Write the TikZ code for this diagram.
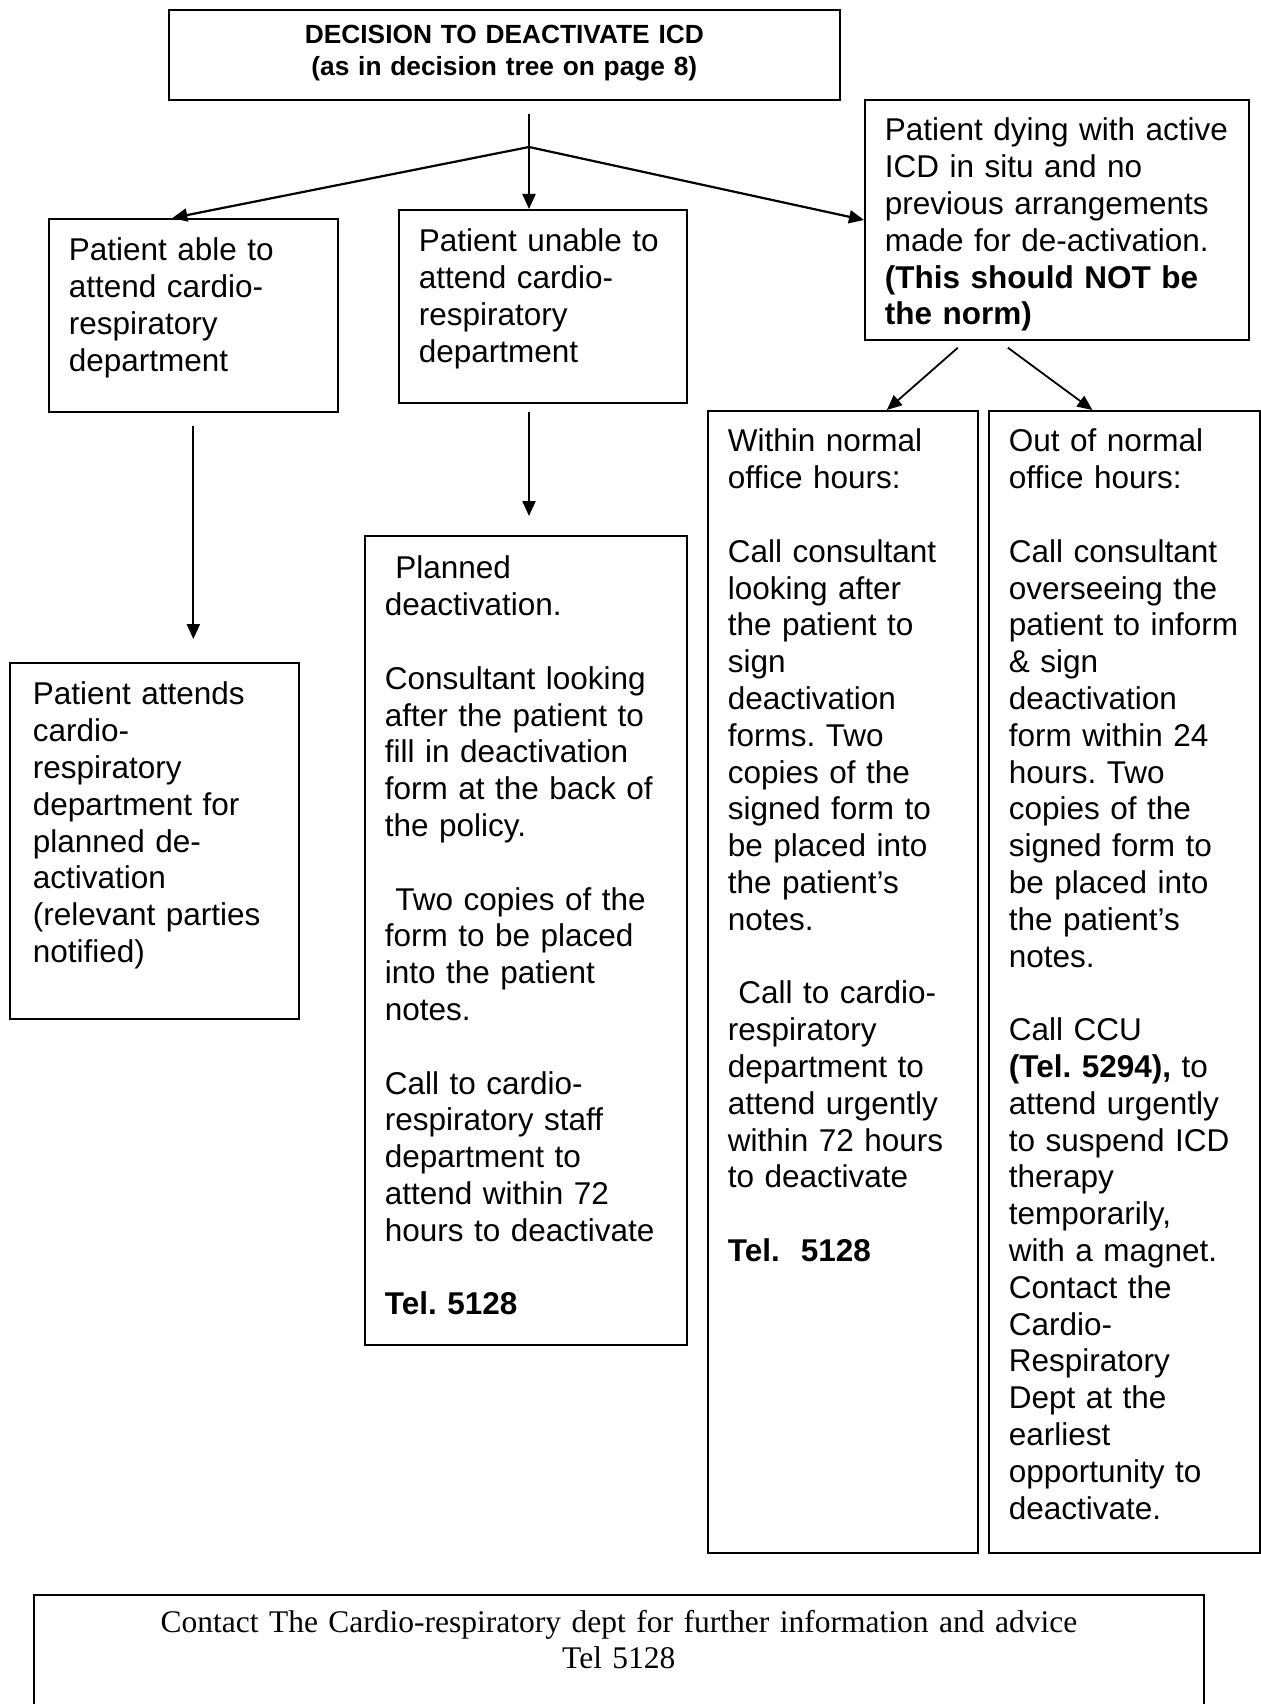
\documentclass[tikz,border=0pt]{standalone}
\usepackage{fontspec}
\setmainfont{Liberation Sans}
\newfontfamily\timesfont{Liberation Serif}
\usetikzlibrary{arrows.meta}
\frenchspacing

\begin{document}
\begin{tikzpicture}[x=1pt,y=-1pt,>={Triangle[length=15pt,width=13pt]},
  cell/.style={draw,line width=1.7pt,anchor=north west,align=left,inner xsep=20pt,
    inner ysep=0pt,text height=42pt,font=\fontsize{31.5}{36.8}\selectfont},
  link/.style={->,line width=2.2pt}]
\useasboundingbox (0,0) rectangle (1260,1704);
% decision
\node[cell,align=center,inner xsep=0pt,text width=671pt,text height=34pt,text depth=56pt,
  font=\fontsize{26.3}{32}\selectfont\bfseries] (decision) at (168,9)
  {DECISION TO DEACTIVATE ICD\\(as in decision tree on page 8)};
\coordinate (fork) at (529,147);
% three branches
\node[cell,text width=249pt,text depth=151pt] (able) at (48,218)
  {Patient able to\\attend cardio-\\respiratory\\department};
\node[cell,text width=248pt,text depth=151pt] (unable) at (398,209)
  {Patient unable to\\attend cardio-\\respiratory\\department};
\node[cell,text width=344pt,text height=41pt,text depth=199pt] (dying) at (864,99)
  {Patient dying with active\\ICD in situ and no\\previous arrangements\\made for de-activation.\\
   \textbf{(This should NOT be}\\\textbf{the norm)}};
% second row
\node[cell,inner xsep=23pt,text width=243pt,text depth=314pt] (attends) at (9,662)
  {Patient attends\\cardio-\\respiratory\\department for\\planned de-\\activation\\
   (relevant parties\\notified)};
\node[cell,text width=282pt,text height=43pt,text depth=766pt] (planned) at (364,535)
  {~Planned\\deactivation.\\~\\Consultant looking\\after the patient to\\fill in deactivation\\
   form at the back of\\the policy.\\~\\~Two copies of the\\form to be placed\\
   into the patient\\notes.\\~\\Call to cardio-\\respiratory staff\\department to\\
   attend within 72\\hours to deactivate\\~\\\textbf{Tel. 5128}};
\node[cell,text width=230pt,text height=41pt,text depth=1101pt] (within) at (707,410)
  {Within normal\\office hours:\\~\\Call consultant\\looking after\\the patient to\\sign\\
   deactivation\\forms. Two\\copies of the\\signed form to\\be placed into\\
   the patient’s\\notes.\\~\\~Call to cardio-\\respiratory\\department to\\
   attend urgently\\within 72 hours\\to deactivate\\~\\\textbf{Tel.~~5128}};
\node[cell,text width=231pt,text height=41pt,text depth=1101pt] (outofhours) at (988,410)
  {Out of normal\\office hours:\\~\\Call consultant\\overseeing the\\patient to inform\\
   \& sign\\deactivation\\form within 24\\hours. Two\\copies of the\\signed form to\\
   be placed into\\the patient’s\\notes.\\~\\Call CCU\\\textbf{(Tel. 5294),} to\\
   attend urgently\\to suspend ICD\\therapy\\temporarily,\\with a magnet.\\
   Contact the\\Cardio-\\Respiratory\\Dept at the\\earliest\\opportunity to\\deactivate.};
% footer
\node[cell,align=center,inner xsep=0pt,text width=1170pt,text height=38pt,text depth=88pt,
  font=\timesfont\fontsize{31.5}{35.5}\selectfont] (contact) at (33,1594)
  {Contact The Cardio-respiratory dept for further information and advice\\Tel 5128};

\draw[line width=2.2pt,shorten <=13pt] (fork |- decision.south) -- (fork);
\draw[link] (fork) -- ([xshift=-21pt]able.north);
\draw[link] (fork) -- (fork |- unable.north);
\draw[link] (fork) -- ([yshift=-121pt]dying.north west);
\draw[link,shorten <=13pt,shorten >=23pt] (able.south) -- (able.south |- attends.north);
\draw[link,shorten <=8pt,shorten >=19pt] (fork |- unable.south) -- (fork |- planned.north);
\draw[link,line width=1.8pt] ([xshift=-99pt,yshift=-7pt]dying.south) -- ([xshift=44pt]within.north);
\draw[link,line width=1.8pt] ([xshift=-49pt,yshift=-7pt]dying.south) -- ([xshift=-32pt]outofhours.north);
\end{tikzpicture}
\end{document}
